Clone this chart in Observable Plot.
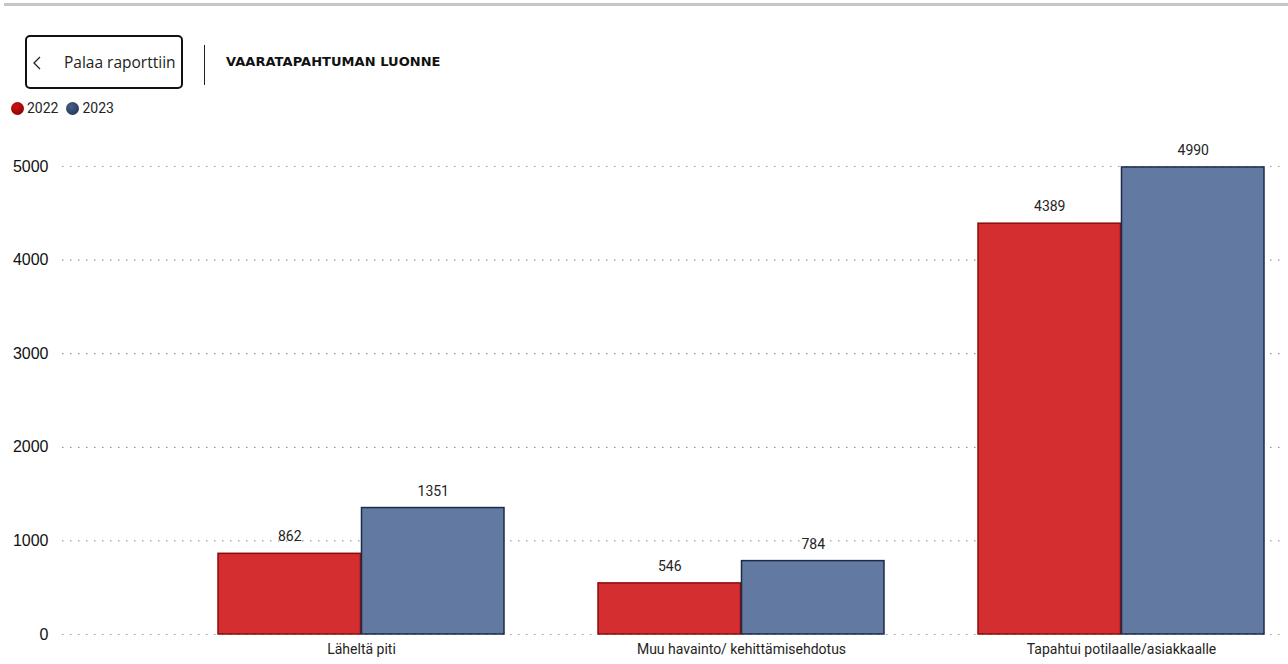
<!DOCTYPE html>
<html>
<head>
<meta charset="utf-8">
<script src="https://cdn.jsdelivr.net/npm/d3@7"></script>
<script src="https://cdn.jsdelivr.net/npm/@observablehq/plot@0.6"></script>
<style>
  html, body { margin: 0; padding: 0; background: #fff; width: 1288px; height: 664px; overflow: hidden; font-family: Roboto, "Noto Sans", sans-serif; color: #252423; }
  #topline { position: absolute; left: 4px; right: 0; top: 3px; height: 3px; background: #c6c6c6; }
  #btn { position: absolute; left: 25px; top: 35px; width: 154px; height: 50px; border: 2px solid #111; border-radius: 5px; box-sizing: content-box; }
  #btn svg { position: absolute; left: 0; top: 0; }
  #btn .lbl { position: absolute; left: 37px; top: 14px; font-size: 15.5px; color: #222; font-family: "Open Sans", Roboto, sans-serif; }
  #divider { position: absolute; left: 204px; top: 45px; width: 1px; height: 40px; background: #222; }
  #title { position: absolute; left: 226px; top: 54px; font-size: 13px; font-weight: bold; letter-spacing: 0.05px; color: #111; font-family: "DejaVu Sans", sans-serif; }
  #legend { position: absolute; left: 11px; top: 100px; font-size: 14px; color: #252423; display: flex; align-items: center; }
  #legend .dot { display: inline-block; width: 13px; height: 13px; border-radius: 50%; margin-right: 3px; }
  #legend .item { display: flex; align-items: center; margin-right: 8px; }
  #chart { position: absolute; left: 0; top: 120px; }
</style>
</head>
<body>
<div id="topline"></div>
<div id="btn"><svg width="30" height="50"><polyline points="13,20 7,26 13,32" fill="none" stroke="#222" stroke-width="1.3"/></svg><span class="lbl">Palaa raporttiin</span></div>
<div id="divider"></div>
<div id="title">VAARATAPAHTUMAN LUONNE</div>
<div id="legend"></div>
<div id="chart"></div>
<script>
const categories = ["Läheltä piti", "Muu havainto/ kehittämisehdotus", "Tapahtui potilaalle/asiakkaalle"];
const years = ["2022", "2023"];
const values2022 = [862, 546, 4389];
const values2023 = [1351, 784, 4990];
const yTicks = [0, 1000, 2000, 3000, 4000, 5000];
const barColors = ["#d42e31", "#627aa1"];
const barStrokes = ["#8c0b0b", "#1c2b4a"];
const legendDots = ["radial-gradient(circle at 40% 35%, #d01010, #7a0000)", "radial-gradient(circle at 40% 35%, #4a5f88, #1d2c4e)"];

const data2022 = categories.map((c, i) => ({cat: c, year: years[0], value: values2022[i]}));
const data2023 = categories.map((c, i) => ({cat: c, year: years[1], value: values2023[i]}));

const legend = document.getElementById("legend");
years.forEach((y, i) => {
  const it = document.createElement("span");
  it.className = "item";
  it.innerHTML = `<span class="dot" style="background:${legendDots[i]}"></span>${y}`;
  legend.appendChild(it);
});

const half = 143.5;
const chart = Plot.plot({
  width: 1288,
  height: 544,
  marginLeft: 62,
  marginRight: 6,
  marginTop: 46,
  marginBottom: 30,
  style: {fontFamily: "Roboto, sans-serif", fontSize: "14px", color: "#252423", background: "transparent"},
  x: {domain: categories, paddingInner: 0.2467, paddingOuter: 0.2244, align: 0.9, label: null, tickSize: 0, tickPadding: 10},
  y: {domain: [0, 5000], ticks: yTicks, tickFormat: d => String(d), label: null, tickSize: 0, tickPadding: 14},
  color: {domain: years, range: barColors},
  marks: [
    Plot.ruleY(yTicks, {stroke: "#9a9a9a", strokeDasharray: "1.5,6.5", strokeWidth: 1.2}),
    Plot.barY(data2022, {x: "cat", y: "value", fill: "year", insetRight: half, stroke: barStrokes[0], strokeWidth: 1.5}),
    Plot.barY(data2023, {x: "cat", y: "value", fill: "year", insetLeft: half, stroke: barStrokes[1], strokeWidth: 1.5}),
    Plot.text(data2022, {x: "cat", y: "value", text: d => String(d.value), dx: -half / 2, dy: -17, fill: "#252423", fontSize: 14}),
    Plot.text(data2023, {x: "cat", y: "value", text: d => String(d.value), dx: half / 2, dy: -17, fill: "#252423", fontSize: 14})
  ]
});
d3.select(chart).selectAll('[aria-label^="y-axis"] text')
  .style("font-family", "'Liberation Sans', Arial, sans-serif")
  .style("font-size", "16px")
  .style("fill", "#111");
document.getElementById("chart").appendChild(chart);
</script>
</body>
</html>
